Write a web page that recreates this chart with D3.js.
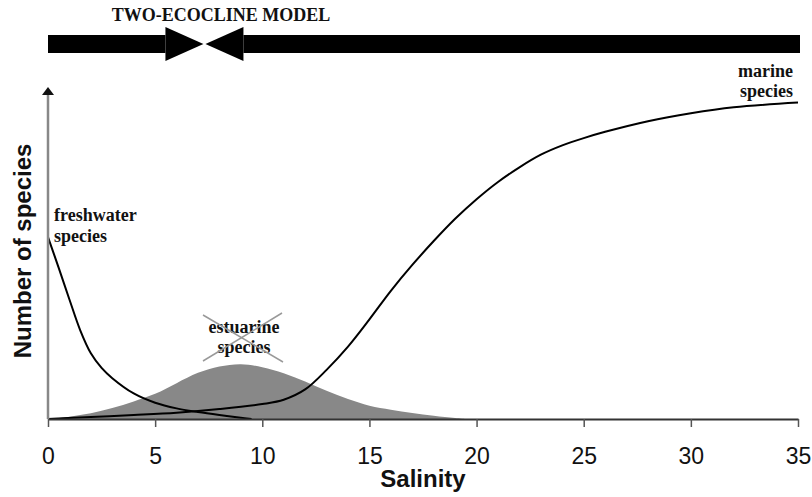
<!DOCTYPE html>
<html>
<head>
<meta charset="utf-8">
<script src="https://cdn.jsdelivr.net/npm/d3@7"></script>
<style>
  body { margin: 0; background: #fff; }
  svg { display: block; }
  .lbl { font-family: "Liberation Serif", "Times New Roman", serif; font-weight: bold; font-size: 18px; fill: #111; }
  .axis text { font-family: "Liberation Sans", Arial, sans-serif; font-size: 23px; fill: #111; }
  .title { font-family: "Liberation Sans", Arial, sans-serif; font-weight: bold; font-size: 24px; fill: #111; }
</style>
</head>
<body>
<svg width="812" height="497"></svg>
<script>
// Salinity ticks
const salinityTicks = [0, 5, 10, 15, 20, 25, 30, 35];

// freshwater species curve
const freshS = [0, 0.5, 1, 1.5, 2, 2.5, 3, 4, 5, 6, 7, 8, 9, 9.5];
const freshV = [54.8, 45.5, 36, 26.8, 19.8, 15.4, 12.3, 7.7, 4.9, 3.2, 2.1, 1.2, 0.4, 0];

// estuarine species (shaded hump)
const estS = [0, 1, 2, 3, 4, 5, 6, 7, 8, 9, 10, 11, 12, 13, 14, 15, 16, 17, 18, 19, 19.5];
const estV = [0, 0.7, 1.7, 3.3, 5.3, 7.6, 10.8, 13.9, 15.8, 16.5, 15.6, 13.8, 11.3, 8.5, 6, 4, 2.8, 1.8, 1, 0.3, 0];

// marine species curve
const marS = [0, 2, 4, 6, 8, 10, 11, 12, 13, 14, 15, 16, 17, 18, 19, 20, 21, 22, 23, 24, 25, 26, 28, 30, 32, 35];
const marV = [0, 0.6, 1.2, 1.9, 3.0, 4.5, 5.8, 8.9, 14.8, 21.8, 30, 38.6, 46.4, 53.6, 60.3, 66.2, 71.4, 75.8, 79.6, 82.4, 84.6, 86.5, 89.7, 92.1, 93.9, 95.3];

// where the two ecoclines meet (arrow tips)
const boundary = 7.3;

const svg = d3.select("svg");

const x = d3.scaleLinear().domain([0, 35]).range([48, 798]);
const y = d3.scaleLinear().domain([0, 100]).range([419, 87]);

const zip = (xs, ys) => xs.map((s, i) => ({s: s, v: ys[i]}));

// shaded estuarine area
svg.append("path")
    .datum(zip(estS, estV))
    .attr("fill", "#888")
    .attr("d", d3.area().x(d => x(d.s)).y0(y(0)).y1(d => y(d.v)).curve(d3.curveCatmullRom));

const line = d3.line().x(d => x(d.s)).y(d => y(d.v)).curve(d3.curveCatmullRom);

svg.append("path")
    .datum(zip(freshS, freshV))
    .attr("fill", "none").attr("stroke", "#000").attr("stroke-width", 2)
    .attr("d", line);

svg.append("path")
    .datum(zip(marS, marV))
    .attr("fill", "none").attr("stroke", "#000").attr("stroke-width", 2)
    .attr("d", line);

// x axis
const xAxisG = svg.append("g")
    .attr("class", "axis")
    .attr("transform", `translate(0, ${y(0)})`)
    .call(d3.axisBottom(x).tickValues(salinityTicks).tickSize(8).tickSizeOuter(0).tickPadding(21));
xAxisG.select(".domain").attr("stroke", "#333").attr("stroke-width", 2);
xAxisG.selectAll(".tick line").attr("stroke", "#555").attr("stroke-width", 1.5);

// y axis with arrow
svg.append("line")
    .attr("x1", x(0)).attr("x2", x(0))
    .attr("y1", y(0)).attr("y2", y(100) + 8)
    .attr("stroke", "#888").attr("stroke-width", 2.5);
svg.append("path")
    .attr("d", `M${x(0)},${y(100)} L${x(0) - 6},${y(100) + 8} L${x(0) + 6},${y(100) + 8} Z`)
    .attr("fill", "#111");

// axis titles
svg.append("text").attr("class", "title")
    .attr("x", (x(0) + x(35)) / 2).attr("y", 487)
    .attr("text-anchor", "middle")
    .text("Salinity");

svg.append("text").attr("class", "title")
    .attr("transform", `translate(31, 251) rotate(-90)`)
    .attr("text-anchor", "middle")
    .text("Number of species");

// two-ecocline bar
const barTop = 35, barH = 18, headH = 34, headL = 38;
const mid = barTop + barH / 2;
const tipL = x(boundary) - 1, tipR = x(boundary) + 1;
svg.append("rect")
    .attr("x", x(0)).attr("y", barTop)
    .attr("width", tipL - headL - x(0)).attr("height", barH)
    .attr("fill", "#000");
svg.append("rect")
    .attr("x", tipR + headL).attr("y", barTop)
    .attr("width", x(35) + 2 - tipR - headL).attr("height", barH)
    .attr("fill", "#000");
svg.append("path")
    .attr("d", `M${tipL - headL},${mid - headH / 2} L${tipL},${mid} L${tipL - headL},${mid + headH / 2} Z`)
    .attr("fill", "#000");
svg.append("path")
    .attr("d", `M${tipR + headL},${mid - headH / 2} L${tipR},${mid} L${tipR + headL},${mid + headH / 2} Z`)
    .attr("fill", "#000");

svg.append("text").attr("class", "lbl")
    .attr("x", 221).attr("y", 21)
    .attr("text-anchor", "middle")
    .text("TWO-ECOCLINE MODEL");

// curve labels
const label = (lines, px, py, anchor, gap) => {
    const t = svg.append("text").attr("class", "lbl").attr("text-anchor", anchor);
    lines.forEach((s, i) => t.append("tspan").attr("x", px).attr("y", py + i * gap).text(s));
};
label(["freshwater", "species"], 54, 221, "start", 21);
label(["marine", "species"], 793, 77, "end", 19.5);
label(["estuarine", "species"], 244, 333, "middle", 20);

// cross over the estuarine label
svg.append("g")
    .attr("stroke", "#999").attr("stroke-width", 1.5)
    .selectAll("line")
    .data([[203, 315, 283, 362], [282, 313, 203, 361]])
    .enter().append("line")
        .attr("x1", d => d[0]).attr("y1", d => d[1])
        .attr("x2", d => d[2]).attr("y2", d => d[3]);
</script>
</body>
</html>
